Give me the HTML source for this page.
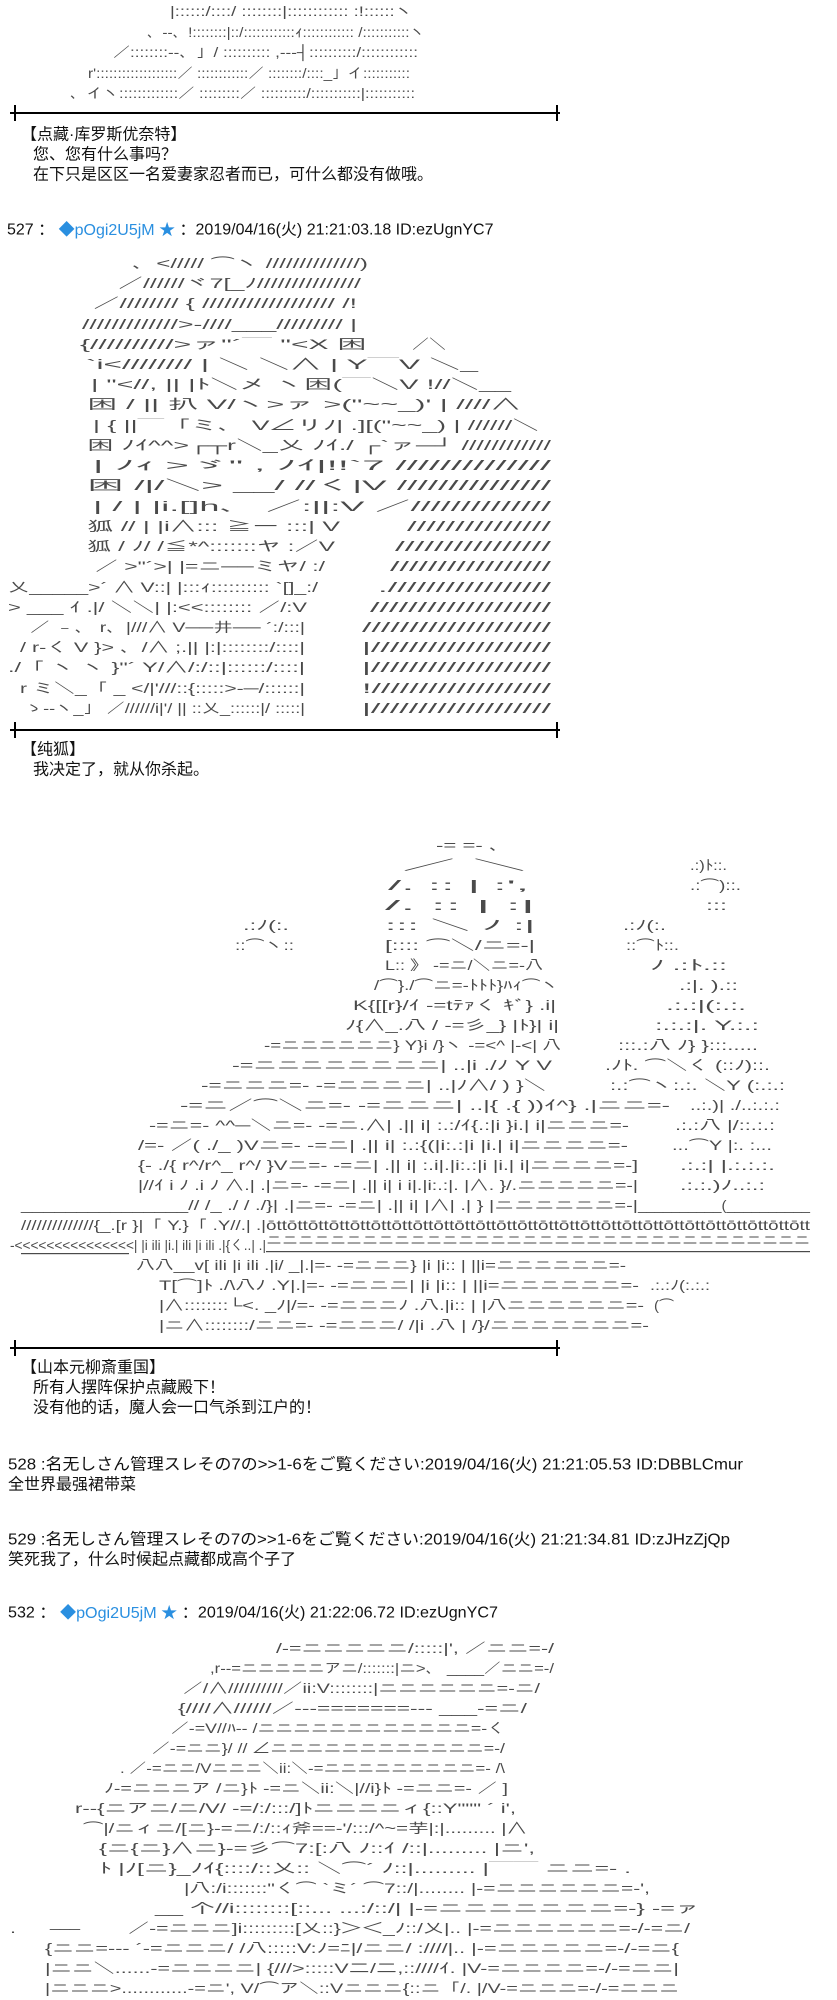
<!DOCTYPE html>
<html><head><meta charset="utf-8">
<style>
html,body{margin:0;padding:0;background:#fff;}
body{width:837px;height:2000px;overflow:hidden;position:relative;}
svg{position:absolute;left:0;top:0;}
.a{font-family:"Liberation Sans","IPAGothic","Noto Sans CJK JP",sans-serif;font-size:14px;fill:#4a4a4a;dominant-baseline:central;}
.t{font-family:"Liberation Sans","Noto Sans CJK SC",sans-serif;font-size:16px;fill:#111;dominant-baseline:central;}
.b{fill:#2a8fe0;}
</style></head><body>
<svg width="837" height="2000" xmlns="http://www.w3.org/2000/svg">
<g class="a">
<!-- art1 -->
<text x="170" y="11" textLength="243" lengthAdjust="spacingAndGlyphs">|::::::/::::/   ::::::::|:::::::::::: :!::::::ヽ</text>
<text x="147" y="32" textLength="278" lengthAdjust="spacingAndGlyphs">、--、!::::::::|::/::::::::::::ｨ:::::::::::: /:::::::::::ヽ</text>
<text x="113" y="52" textLength="305" lengthAdjust="spacingAndGlyphs">／::::::::--、」/ :::::::::: ,---┤::::::::::/::::::::::::</text>
<text x="88" y="73" textLength="322" lengthAdjust="spacingAndGlyphs">r':::::::::::::::::::／ ::::::::::::／ ::::::::/::::_」イ:::::::::::</text>
<text x="70" y="93" textLength="345" lengthAdjust="spacingAndGlyphs">、イヽ:::::::::::::／ :::::::::／ ::::::::::/:::::::::::|:::::::::::</text>

<!-- art2 -->
<text x="132" y="263" textLength="236" lengthAdjust="spacingAndGlyphs">、&lt;///// ⌒ヽ //////////////)</text>
<text x="118" y="283" textLength="243" lengthAdjust="spacingAndGlyphs">／//////ヾ7[_ﾉ///////////////</text>
<text x="93" y="303" textLength="264" lengthAdjust="spacingAndGlyphs">／//////// { ////////////////// /!</text>
<text x="82" y="324" textLength="275" lengthAdjust="spacingAndGlyphs">/////////////&gt;-////___///////// |</text>
<text x="80" y="344" textLength="287" lengthAdjust="spacingAndGlyphs">{//////////&gt;ァ"´￣       "&lt;X  困</text>
<text x="412" y="344" textLength="34" lengthAdjust="spacingAndGlyphs">／＼</text>
<text x="86" y="364" textLength="392" lengthAdjust="spacingAndGlyphs">`i&lt;//////// |       ＼     ＼∧ |   Y￣V      ＼_</text>
<text x="91" y="384" textLength="420" lengthAdjust="spacingAndGlyphs">|     "&lt;//,    ||      |ﾄ＼メ    ヽ困(￣＼V     !//＼__</text>
<text x="87" y="404" textLength="434" lengthAdjust="spacingAndGlyphs">困     / || 扒     V/ヽ&gt;ァ   &gt;("~~_)'      | ////∧</text>
<text x="93" y="425" textLength="446" lengthAdjust="spacingAndGlyphs">|      { ||￣「ミ、  V∠リﾉ|  .][("~~_)      | //////＼</text>
<text x="87" y="445" textLength="464" lengthAdjust="spacingAndGlyphs">困     ﾉｲ^^&gt;┌┬r＼_乂    ﾉｲ./ ┌`ァ─┘     ////////////</text>
<text x="93" y="465" textLength="458" lengthAdjust="spacingAndGlyphs">|      ﾉｨ    &gt;ゞ"        ,        ﾉｲ|!!`7      //////////////</text>
<text x="87" y="485" textLength="464" lengthAdjust="spacingAndGlyphs">困     /|/＼&gt;        __/    //く|V       ///////////////</text>
<text x="93" y="506" textLength="458" lengthAdjust="spacingAndGlyphs">|      /     | |i.[]h、      ／:||:V     ／//////////////</text>
<text x="87" y="526" textLength="253" lengthAdjust="spacingAndGlyphs">狐    //       |  |i∧:::  ≧ー   :::| V</text>
<text x="407" y="526" textLength="144" lengthAdjust="spacingAndGlyphs">///////////////</text>
<text x="87" y="546" textLength="248" lengthAdjust="spacingAndGlyphs">狐    /          ﾉ/ /≦*^:::::::ヤ  :／V</text>
<text x="395" y="546" textLength="156" lengthAdjust="spacingAndGlyphs">////////////////</text>
<text x="95" y="566" textLength="230" lengthAdjust="spacingAndGlyphs">／    &gt;"´&gt;|  |=ニ──ミヤ/ :/</text>
<text x="390" y="566" textLength="161" lengthAdjust="spacingAndGlyphs">/////////////////</text>
<text x="8" y="587" textLength="310" lengthAdjust="spacingAndGlyphs">乂_____&gt;´      ∧ V::|  |:::ｨ::::::::::  `[]_:/</text>
<text x="378" y="587" textLength="173" lengthAdjust="spacingAndGlyphs">./////////////////</text>
<text x="8" y="607" textLength="299" lengthAdjust="spacingAndGlyphs">&gt;  ___    ｲ      .|/ ＼＼|  |:&lt;&lt;::::::::  ／/:V</text>
<text x="370" y="607" textLength="181" lengthAdjust="spacingAndGlyphs">///////////////////</text>
<text x="30" y="627" textLength="275" lengthAdjust="spacingAndGlyphs">／  ﹣、  r、|///∧ V──井──    ´:/:::|</text>
<text x="362" y="627" textLength="189" lengthAdjust="spacingAndGlyphs">////////////////////</text>
<text x="20" y="647" textLength="285" lengthAdjust="spacingAndGlyphs">/ r-く   V   }&gt;  、/∧ ;.|| |:|::::::::/::::|</text>
<text x="362" y="647" textLength="189" lengthAdjust="spacingAndGlyphs">|///////////////////</text>
<text x="8" y="667" textLength="297" lengthAdjust="spacingAndGlyphs">./「 ヽ  ヽ  }"´       Y/∧/:/::|::::::/::::|</text>
<text x="362" y="667" textLength="189" lengthAdjust="spacingAndGlyphs">|///////////////////</text>
<text x="20" y="688" textLength="285" lengthAdjust="spacingAndGlyphs">r ミ＼_「    _    &lt;/|'///::{:::::&gt;-─/::::::|</text>
<text x="362" y="688" textLength="189" lengthAdjust="spacingAndGlyphs">!///////////////////</text>
<text x="25" y="708" textLength="280" lengthAdjust="spacingAndGlyphs">ゝ--ヽ_」 ／//////i|'/ || ::乂_::::::|/ :::::|</text>
<text x="362" y="708" textLength="189" lengthAdjust="spacingAndGlyphs">|///////////////////</text>

<!-- art3 -->
<text x="436" y="845" textLength="64" lengthAdjust="spacingAndGlyphs">-=    =- ､</text>
<text x="401" y="865" textLength="126" lengthAdjust="spacingAndGlyphs">／                ＼</text>
<text x="690" y="865" textLength="37" lengthAdjust="spacingAndGlyphs">.:)ﾄ::.</text>
<text x="388" y="885" textLength="141" lengthAdjust="spacingAndGlyphs">/.  ::            |  :',</text>
<text x="690" y="885" textLength="51" lengthAdjust="spacingAndGlyphs">.:⌒)::.</text>
<text x="385" y="905" textLength="150" lengthAdjust="spacingAndGlyphs">/.  ::            |   :|</text>
<text x="706" y="905" textLength="21" lengthAdjust="spacingAndGlyphs">:::</text>
<text x="243" y="925" textLength="46" lengthAdjust="spacingAndGlyphs">.:ﾉ(:.</text>
<text x="385" y="925" textLength="150" lengthAdjust="spacingAndGlyphs">:::     ＼      ﾉ    :|</text>
<text x="623" y="925" textLength="43" lengthAdjust="spacingAndGlyphs">.:ﾉ(:.</text>
<text x="235" y="945" textLength="59" lengthAdjust="spacingAndGlyphs">::⌒ヽ::</text>
<text x="385" y="945" textLength="150" lengthAdjust="spacingAndGlyphs">[::::     ⌒＼/ニ=-|</text>
<text x="626" y="945" textLength="53" lengthAdjust="spacingAndGlyphs">::⌒ﾄ::.</text>
<text x="385" y="965" textLength="158" lengthAdjust="spacingAndGlyphs">L::   》 -=ニ/＼ニ=-八</text>
<text x="650" y="965" textLength="77" lengthAdjust="spacingAndGlyphs">ﾉ    .:ﾄ.::</text>
<text x="374" y="985" textLength="185" lengthAdjust="spacingAndGlyphs">/⌒}./⌒ニ=-ﾄﾄﾄ}ﾊｨ⌒ヽ</text>
<text x="679" y="985" textLength="59" lengthAdjust="spacingAndGlyphs">.:|. ).::</text>
<text x="353" y="1005" textLength="203" lengthAdjust="spacingAndGlyphs">K{[[r}/ｲ   -=tﾃｧく  ｷﾞ}    .i|</text>
<text x="666" y="1005" textLength="80" lengthAdjust="spacingAndGlyphs">.:.:|(:.:.</text>
<text x="345" y="1025" textLength="214" lengthAdjust="spacingAndGlyphs">ﾉ{∧_.八   / -=彡_}    |ﾄ}|    i|</text>
<text x="655" y="1025" textLength="104" lengthAdjust="spacingAndGlyphs">:.:.:|.  Y.:.:</text>
<text x="264" y="1045" textLength="297" lengthAdjust="spacingAndGlyphs">-=ニニニニニニ}  Y}i   /}ヽ -=&lt;^     |-&lt;|   八</text>
<text x="618" y="1045" textLength="140" lengthAdjust="spacingAndGlyphs">:::.:八   ﾉ}    }:::.....</text>
<text x="232" y="1065" textLength="320" lengthAdjust="spacingAndGlyphs">-=ニニニニニニニニ|  ..|i   ./ﾉ         Y          V</text>
<text x="605" y="1065" textLength="165" lengthAdjust="spacingAndGlyphs">.ﾉﾄ.  ⌒＼く  (::ﾉ)::.</text>
<text x="201" y="1085" textLength="345" lengthAdjust="spacingAndGlyphs">-=ニニニ=- -=ニニニニ|  ..|ﾉ∧/          )          }＼</text>
<text x="610" y="1085" textLength="175" lengthAdjust="spacingAndGlyphs">:.:⌒ヽ:.:.     ＼Y (:.:.:</text>
<text x="180" y="1105" textLength="490" lengthAdjust="spacingAndGlyphs">-=ニ／⌒＼ニ=- -=ニニニ|  ..|{    .{         ))ｲ^}      .|ニニ=-</text>
<text x="690" y="1105" textLength="90" lengthAdjust="spacingAndGlyphs">..:.)| ./..:.:.:</text>
<text x="149" y="1125" textLength="480" lengthAdjust="spacingAndGlyphs">-=ニ=-     ^^─＼ニ=- -=ニ.∧| .||   i|   :.:/ｲ{.:|i }i.|     i|ニニニ=-</text>
<text x="675" y="1125" textLength="100" lengthAdjust="spacingAndGlyphs">.:.:八  |/::.:.:</text>
<text x="138" y="1145" textLength="490" lengthAdjust="spacingAndGlyphs">/=-  ／(   ./_           )Vニ=- -=ニ| .||   i|   :.:{(|i:.:|i |i.|     i|ニニニニ=-</text>
<text x="672" y="1145" textLength="100" lengthAdjust="spacingAndGlyphs">...⌒Y |:. :...</text>
<text x="138" y="1165" textLength="500" lengthAdjust="spacingAndGlyphs">{- ./{ r^/r^_ r^/ }Vニ=- -=ニ| .||   i|   :.i|.|i:.:|i |i.|     i|ニニニニ=-]</text>
<text x="680" y="1165" textLength="95" lengthAdjust="spacingAndGlyphs">.:.:| |.:.:.:.</text>
<text x="138" y="1185" textLength="500" lengthAdjust="spacingAndGlyphs">|//ｲ      i ﾉ    .i ﾉ   ∧.| .|ニ=- -=ニ| .||   i|   i i|.|i:.:|. |∧. }/.ニニニニニ=-|</text>
<text x="680" y="1185" textLength="85" lengthAdjust="spacingAndGlyphs">.:.:.)ﾉ..:.:</text>
<text x="21" y="1205" textLength="617" lengthAdjust="spacingAndGlyphs">_______________//   /_   ./     /       ./}| .|ニ=- -=ニ| .||   i|   |∧|      .|    } |ニニニニニニ=-|</text>
<text x="638" y="1205" textLength="172" lengthAdjust="spacingAndGlyphs">__________(__________</text>
<text x="21" y="1225" textLength="245" lengthAdjust="spacingAndGlyphs">//////////////{_.[r   }|「  Y.}「  .Y//.| .|</text>
<text x="266" y="1225" textLength="544" lengthAdjust="spacingAndGlyphs">ōttōttōttōttōttōttōttōttōttōttōttōttōttōttōttōttōttōttōttōttōttōttōttōttōttōtt</text>
<text x="10" y="1245" textLength="256" lengthAdjust="spacingAndGlyphs">-&lt;&lt;&lt;&lt;&lt;&lt;&lt;&lt;&lt;&lt;&lt;&lt;&lt;&lt;&lt;|  |i ili |i.| ili  |i ili .|{く..| .|</text>
<text x="266" y="1240" textLength="544" lengthAdjust="spacingAndGlyphs">ニニニニニニニニニニニニニニニニニニニニニニニニニニニニニニニニニニ</text>
<rect x="266" y="1251" width="544" height="1.2" fill="#4a4a4a"/>
<rect x="21" y="1253" width="108" height="1.2" fill="#4a4a4a"/>
<text x="136" y="1265" textLength="490" lengthAdjust="spacingAndGlyphs">八八__v[ ili  |i ili .|i/ _|.|=- -=ニニニ}    |i   |i::          |     ||i=ニニニニニニ=-</text>
<text x="159" y="1285" textLength="480" lengthAdjust="spacingAndGlyphs">T[⌒]ﾄ ./\八ﾉ  .Y|.|=- -=ニニニ|    |i   |i::          |     ||i=ニニニニニニ=-</text>
<text x="650" y="1285" textLength="60" lengthAdjust="spacingAndGlyphs">.:.:ﾉ(:.:.:</text>
<text x="159" y="1305" textLength="485" lengthAdjust="spacingAndGlyphs">|∧::::::::└&lt;.    _ﾉ|/=- -=ニニニﾉ   .八.|i::          |     |八ニニニニニニ=-</text>
<text x="654" y="1305" textLength="20" lengthAdjust="spacingAndGlyphs">(⌒</text>
<text x="159" y="1325" textLength="490" lengthAdjust="spacingAndGlyphs">|ニ∧::::::::/ニニ=- -=ニニニ/ /|i  .八          |     /}/ニニニニニニニ=-</text>

<!-- art4 -->
<text x="276" y="1648" textLength="278" lengthAdjust="spacingAndGlyphs">/-=ニニニニニ/:::::|',                ／ニニ=-/</text>
<text x="210" y="1668" textLength="344" lengthAdjust="spacingAndGlyphs">,r--=ニニニニニアニ/:::::::|ニ&gt;、 ____／ニニ=-/</text>
<text x="183" y="1688" textLength="357" lengthAdjust="spacingAndGlyphs">／/∧//////////／ii:V::::::::|ニニニニニニ=-ニ/</text>
<text x="178" y="1708" textLength="349" lengthAdjust="spacingAndGlyphs">{////∧//////／---=======---   ___-=ニ/</text>
<text x="171" y="1728" textLength="334" lengthAdjust="spacingAndGlyphs">／-=V//ﾊ-- /ニニニニニニニニニニニニ=-く</text>
<text x="152" y="1748" textLength="353" lengthAdjust="spacingAndGlyphs">／-=ニニ}/ // ∠ニニニニニニニニニニニニ=-/</text>
<text x="120" y="1768" textLength="385" lengthAdjust="spacingAndGlyphs">. ／-=ニニ/Vニニニ＼ii:＼-=ニニニニニニニニニ=- /\</text>
<text x="104" y="1788" textLength="404" lengthAdjust="spacingAndGlyphs">ﾉ-=ニニニア /ニ}ﾄ -=ニ＼ii:＼|//i}ﾄ -=ニニ=- ／   ]</text>
<text x="75" y="1808" textLength="441" lengthAdjust="spacingAndGlyphs">r--{ニアニ/ニ/V/  -=/:/:::/]ﾄニニニニィ{::Y""" ´          i',</text>
<text x="83" y="1828" textLength="444" lengthAdjust="spacingAndGlyphs">⌒|/ニィニ/[ニ}-=ニ/:/::ｨ斧==-'/:::/^~=芋|:|.........      |∧</text>
<text x="99" y="1848" textLength="436" lengthAdjust="spacingAndGlyphs">{ニ{ニ}∧ニ}-=彡⌒7:[:八    ﾉ::ｲ            /::|.........      |ニ',</text>
<text x="99" y="1868" textLength="532" lengthAdjust="spacingAndGlyphs">ﾄ   |ﾉ[ニ}_ﾉｲ{::::/::乂:: ＼⌒´          ﾉ::|.........      |￣￣      ニニ=-    .</text>
<text x="184" y="1888" textLength="466" lengthAdjust="spacingAndGlyphs">|八:/i:::::::"く⌒    `ミ´    ⌒7::/|........      |-=ニニニニニニ=-',</text>
<text x="155" y="1908" textLength="545" lengthAdjust="spacingAndGlyphs">__   个//i::::::::[::...              ...:/::/|            |-=ニニニニニニニ=-}   -=ァ</text>
<text x="10" y="1928" textLength="6" lengthAdjust="spacingAndGlyphs">.</text>
<text x="50" y="1922" textLength="30" lengthAdjust="spacingAndGlyphs">___</text>
<text x="128" y="1928" textLength="562" lengthAdjust="spacingAndGlyphs">／-=ニニニ]i:::::::::[乂::}＞＜_ﾉ::/乂|..          |-=ニニニニニニ=-/-=ニ/</text>
<text x="45" y="1948" textLength="634" lengthAdjust="spacingAndGlyphs">{ニニ=---   ´-=ニニニ/   /八:::::V:ﾉ=ﾆ|/ニニ/ :////|..          |-=ニニニニニ=-/-=ニ{</text>
<text x="45" y="1968" textLength="634" lengthAdjust="spacingAndGlyphs">|ニニ＼......-=ニニニニ|   {///&gt;:::::V二/二,::////ｲ.          |V-=ニニニニ=-/-=ニニ|</text>
<text x="45" y="1988" textLength="634" lengthAdjust="spacingAndGlyphs">|ニニニ&gt;............-=ニ',  V/⌒ア＼::Vニニニ{::ニ「/.           |/V-=ニニニ=-/-=ニニニ</text>
</g>

<!-- separators -->
<g fill="#000">
<rect x="10" y="112" width="550" height="2"/><rect x="14" y="105" width="2" height="16"/><rect x="556" y="105" width="2" height="16"/>
<rect x="10" y="729" width="550" height="2"/><rect x="14" y="722" width="2" height="16"/><rect x="556" y="722" width="2" height="16"/>
<rect x="10" y="1347" width="550" height="2"/><rect x="14" y="1340" width="2" height="16"/><rect x="556" y="1340" width="2" height="16"/>
</g>

<!-- text -->
<g class="t">
<text x="21" y="135">【点藏·库罗斯优奈特】</text>
<text x="33" y="155">您、您有什么事吗？</text>
<text x="33" y="175">在下只是区区一名爱妻家忍者而已，可什么都没有做哦。</text>

<text x="7" y="230">527 ： <tspan class="b">◆pOgi2U5jM ★</tspan> ：2019/04/16(火) 21:21:03.18 ID:ezUgnYC7</text>

<text x="21" y="750">【纯狐】</text>
<text x="33" y="770">我决定了，就从你杀起。</text>

<text x="21" y="1368">【山本元柳斎重国】</text>
<text x="33" y="1388">所有人摆阵保护点藏殿下！</text>
<text x="33" y="1408">没有他的话，魔人会一口气杀到江户的！</text>

<text x="8" y="1465" textLength="735" lengthAdjust="spacingAndGlyphs">528 :名无しさん管理スレその7の&gt;&gt;1-6をご覧ください:2019/04/16(火) 21:21:05.53 ID:DBBLCmur</text>
<text x="8" y="1485">全世界最强裙带菜</text>
<text x="8" y="1540" textLength="722" lengthAdjust="spacingAndGlyphs">529 :名无しさん管理スレその7の&gt;&gt;1-6をご覧ください:2019/04/16(火) 21:21:34.81 ID:zJHzZjQp</text>
<text x="8" y="1560">笑死我了，什么时候起点藏都成高个子了</text>

<text x="8" y="1613" textLength="490" lengthAdjust="spacingAndGlyphs">532 ： <tspan class="b">◆pOgi2U5jM ★</tspan> ：2019/04/16(火) 21:22:06.72 ID:ezUgnYC7</text>
</g>
</svg>
</body></html>
